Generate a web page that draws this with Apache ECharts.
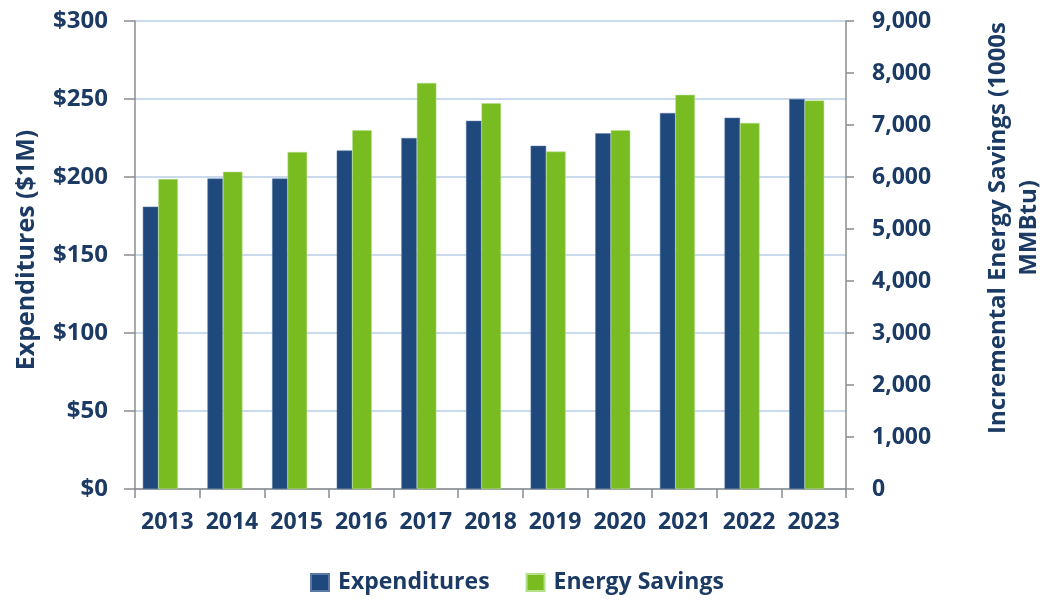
<!DOCTYPE html>
<html>
<head>
<meta charset="utf-8">
<script src="https://cdn.jsdelivr.net/npm/echarts@6/dist/echarts.min.js"></script>
<style>
  html, body { margin: 0; padding: 0; background: #fff; }
  #main { width: 1046px; height: 600px; }
</style>
</head>
<body>
<div id="main"></div>
<script>
var years = ['2013', '2014', '2015', '2016', '2017', '2018', '2019', '2020', '2021', '2022', '2023'];
// 支出 ($1M)
var expenditures = [181, 199, 199, 217, 225, 236, 220, 228, 241, 238, 250];
// 节能量 (1000s MMBtu)
var energySavings = [5960, 6100, 6480, 6900, 7810, 7420, 6490, 6900, 7580, 7040, 7470];

var textColor = '#1B3A64';
var fontFam = '"Open Sans", "Liberation Sans", sans-serif';

var myChart = echarts.init(document.getElementById('main'));
var option = {
    backgroundColor: '#fff',
    animation: false,
    grid: {
        left: 135,
        right: 200,
        top: 21,
        bottom: 111,
        outerBoundsMode: 'none'
    },
    legend: {
        data: ['Expenditures', 'Energy Savings'],
        bottom: 1,
        left: 305,
        itemWidth: 18,
        itemHeight: 17,
        itemGap: 36,
        icon: 'rect',
        textStyle: {
            color: textColor,
            fontFamily: fontFam,
            fontWeight: 'bold',
            fontSize: 23,
            padding: [0, 0, 0, 4]
        }
    },
    xAxis: {
        type: 'category',
        data: years,
        axisLine: { lineStyle: { color: '#8c8c8c', width: 1.5 } },
        axisTick: { show: true, length: 9, lineStyle: { color: '#8c8c8c', width: 1.5 } },
        axisLabel: {
            interval: 0,
            hideOverlap: false,
            color: textColor,
            fontFamily: fontFam,
            fontWeight: 'bold',
            fontSize: 23,
            margin: 22
        }
    },
    yAxis: [
        {
            type: 'value',
            min: 0,
            max: 300,
            interval: 50,
            name: 'Expenditures ($1M)',
            nameLocation: 'middle',
            nameGap: 96,
            nameRotate: 90,
            nameTextStyle: {
                color: textColor,
                fontFamily: fontFam,
                fontWeight: 'bold',
                fontSize: 25,
                padding: [0, 0, 0, 10]
            },
            axisLine: { show: true, lineStyle: { color: '#8c8c8c', width: 1.5 } },
            axisTick: { show: true, length: 11, lineStyle: { color: '#8c8c8c', width: 1.5 } },
            axisLabel: {
                color: textColor,
                fontFamily: fontFam,
                fontWeight: 'bold',
                fontSize: 24,
                margin: 27,
                formatter: function (v) { return '$' + v; }
            },
            splitLine: { lineStyle: { color: '#b9cde5', width: 1.5 } }
        },
        {
            type: 'value',
            min: 0,
            max: 9000,
            interval: 1000,
            position: 'right',
            name: 'Incremental Energy Savings (1000s\nMMBtu)',
            nameLocation: 'middle',
            nameGap: 137,
            nameRotate: 90,
            nameTextStyle: {
                color: textColor,
                fontFamily: fontFam,
                fontWeight: 'bold',
                fontSize: 24,
                lineHeight: 31,
                padding: [0, 0, 0, 54]
            },
            axisLine: { show: true, lineStyle: { color: '#8c8c8c', width: 1.5 } },
            axisTick: { show: true, length: 8, lineStyle: { color: '#8c8c8c', width: 1.5 } },
            axisLabel: {
                color: textColor,
                fontFamily: fontFam,
                fontWeight: 'bold',
                fontSize: 23,
                margin: 26,
                formatter: function (v) { return v.toLocaleString('en-US'); }
            },
            splitLine: { show: false }
        }
    ],
    series: [
        {
            name: 'Expenditures',
            type: 'bar',
            yAxisIndex: 0,
            barWidth: 15.5,
            barGap: 0,
            itemStyle: { color: '#1F497D', borderColor: '#5a7aa6', borderWidth: 0.5 },
            data: expenditures
        },
        {
            name: 'Energy Savings',
            type: 'bar',
            yAxisIndex: 1,
            barWidth: 19.5,
            barGap: 0,
            itemStyle: { color: '#78BC22', borderColor: '#b5e08a', borderWidth: 0.5 },
            data: energySavings
        },
        {
            // 占位，让柱组偏左
            name: 'spacer',
            type: 'bar',
            yAxisIndex: 0,
            barWidth: 14,
            barGap: 0,
            silent: true,
            data: []
        }
    ]
};
option && myChart.setOption(option);
</script>
</body>
</html>
